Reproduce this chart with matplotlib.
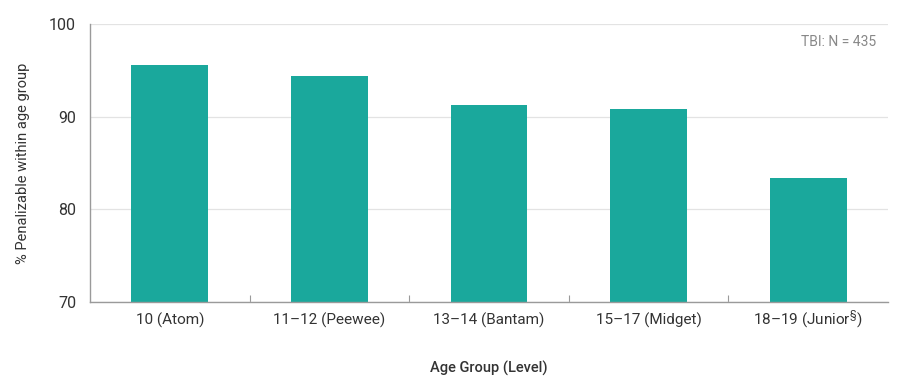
import matplotlib
matplotlib.use("Agg")
import matplotlib.pyplot as plt
import numpy as np

plt.rcParams['font.family'] = ['Roboto', 'DejaVu Sans']
plt.rcParams['mathtext.fontset'] = 'custom'
plt.rcParams['mathtext.rm'] = 'Roboto'

# data
groups = ["10 (Atom)", "11\u201312 (Peewee)", "13\u201314 (Bantam)",
          "15\u201317 (Midget)", "18\u201319 (Junior$^{\u00a7}$)"]
pct = [95.6, 94.4, 91.3, 90.8, 83.4]
yticks = [70, 80, 90, 100]

bar_col = '#1aa89c'
grey = '#9a9a9a'
txt = '#333333'

fig = plt.figure(figsize=(9.05, 3.9), dpi=100)
ax = fig.add_axes([90/905, 88/390, 798/905, 278/390])

x = np.arange(len(groups))
ax.bar(x, pct, width=0.48, color=bar_col, zorder=2)

ax.set_xlim(-0.5, len(groups) - 0.5)
ax.set_ylim(70, 100)
ax.set_yticks(yticks)
ax.grid(axis='y', color='#e3e3e3', linewidth=0.9, zorder=0)
ax.tick_params(axis='y', length=0, pad=10, labelsize=11.5, labelcolor=txt)

ax.set_xticks(x)
ax.set_xticklabels(groups)
ax.tick_params(axis='x', length=0, pad=16, labelsize=11, labelcolor=txt)
# baseline-align so the superscript label lines up with the others
for lbl in ax.get_xticklabels():
    lbl.set_verticalalignment('baseline')
# small separator ticks between categories
ax.set_xticks(x[:-1] + 0.5, minor=True)
ax.tick_params(axis='x', which='minor', direction='in', length=5, color=grey, width=0.8)

for s in ['top', 'right']:
    ax.spines[s].set_visible(False)
for s in ['left', 'bottom']:
    ax.spines[s].set_color(grey)
    ax.spines[s].set_linewidth(1)

ax.set_ylabel("% Penalizable within age group", fontsize=10.5, color=txt, labelpad=14)
ax.set_xlabel("Age Group (Level)", fontsize=10.5, color=txt, fontweight='medium', labelpad=22)

ax.text(0.985, 0.935, "TBI: N = 435", transform=ax.transAxes, ha='right', va='center',
        fontsize=10, color='#888888')

fig.savefig("out.png", dpi=100)
